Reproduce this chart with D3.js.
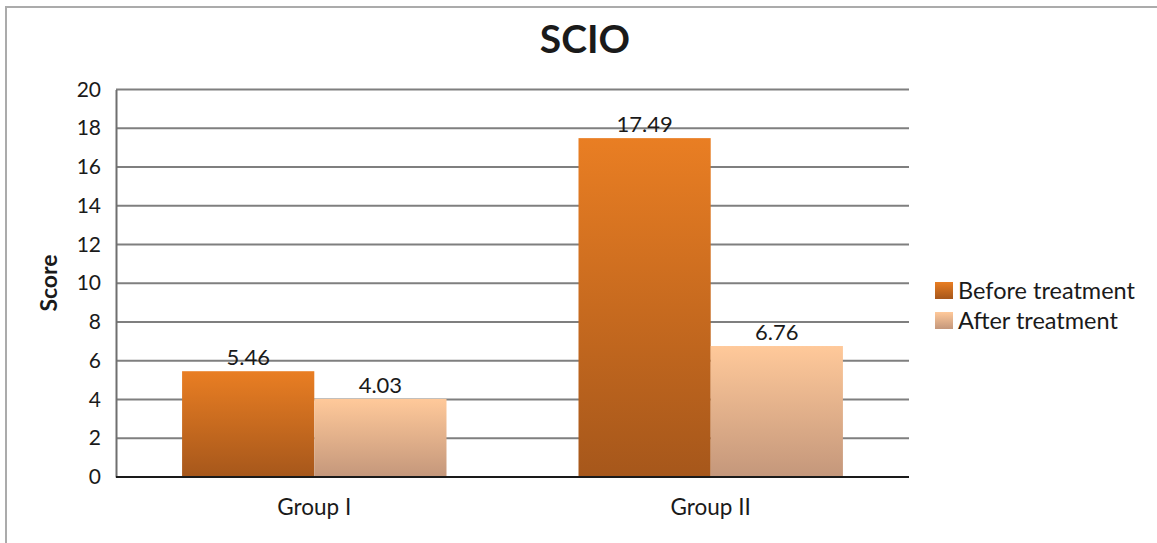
<!DOCTYPE html>
<html>
<head>
<meta charset="utf-8">
<script src="https://cdn.jsdelivr.net/npm/d3@7"></script>
<style>
  html, body { margin: 0; padding: 0; background: #fff; }
  svg { display: block; }
  text { font-family: Lato, "Open Sans", sans-serif; fill: #1a1a1a; }
</style>
</head>
<body>
<svg id="chart" width="1157" height="543"></svg>
<script>
// Chart data
const groups = ["Group I", "Group II"];
const seriesNames = ["Before treatment", "After treatment"];
const beforeValues = [5.46, 17.49];
const afterValues = [4.03, 6.76];
const yTicks = [0, 2, 4, 6, 8, 10, 12, 14, 16, 18, 20];
const chartTitle = "SCIO";
const yTitle = "Score";

const svg = d3.select("#chart");
const W = 1157, H = 543;
const plot = { left: 116, right: 909, top: 89.5, bottom: 477 };

// Outer chart frame
svg.append("rect")
  .attr("x", 6).attr("y", 7)
  .attr("width", W + 20).attr("height", H + 20)
  .attr("fill", "#fff")
  .attr("stroke", "#ababab").attr("stroke-width", 2);

// Gradients for the two series
const defs = svg.append("defs");
const gradStops = [
  ["gBefore", "#e97e23", "#a6571b"],
  ["gAfter", "#ffc99a", "#c4977b"]
];
gradStops.forEach(([id, top, bot]) => {
  const g = defs.append("linearGradient").attr("id", id)
    .attr("x1", 0).attr("y1", 0).attr("x2", 0).attr("y2", 1);
  g.append("stop").attr("offset", "0%").attr("stop-color", top);
  g.append("stop").attr("offset", "100%").attr("stop-color", bot);
});
const fills = ["url(#gBefore)", "url(#gAfter)"];

// Scales
const x0 = d3.scaleBand().domain(groups).range([plot.left, plot.right])
  .paddingInner(0.333).paddingOuter(0.1667);
const x1 = d3.scaleBand().domain(seriesNames).range([0, x0.bandwidth()]);
const y = d3.scaleLinear().domain([0, 20]).range([plot.bottom, plot.top]);

// Horizontal gridlines
svg.append("g")
  .selectAll("line")
  .data(yTicks.filter(d => d > 0))
  .join("line")
  .attr("x1", plot.left).attr("x2", plot.right)
  .attr("y1", d => y(d)).attr("y2", d => y(d))
  .attr("stroke", "#7f7f7f").attr("stroke-width", 2);

// Y axis
const yAxis = svg.append("g")
  .attr("transform", `translate(${plot.left},0)`)
  .call(d3.axisLeft(y).tickValues(yTicks).tickSize(0).tickPadding(15));
yAxis.select(".domain").attr("stroke", "#6f6f6f").attr("stroke-width", 2);
yAxis.selectAll("text")
  .style("font-size", "21px").style("font-family", "Lato, sans-serif")
  .attr("fill", "#1a1a1a");

// Bars
const series = seriesNames.map((name, i) => ({
  name, values: i === 0 ? beforeValues : afterValues
}));
const data = [];
groups.forEach((g, gi) => series.forEach((s, si) => {
  data.push({ group: g, series: s.name, si, value: s.values[gi] });
}));

svg.append("g")
  .selectAll("rect")
  .data(data)
  .join("rect")
  .attr("x", d => x0(d.group) + x1(d.series))
  .attr("y", d => y(d.value))
  .attr("width", x1.bandwidth())
  .attr("height", d => y(0) - y(d.value))
  .attr("fill", d => fills[d.si]);

// Value labels
svg.append("g")
  .selectAll("text")
  .data(data)
  .join("text")
  .attr("x", d => x0(d.group) + x1(d.series) + x1.bandwidth() / 2)
  .attr("y", d => y(d.value) - 6)
  .attr("text-anchor", "middle")
  .style("font-size", "22px")
  .text(d => d.value.toFixed(2));

// X axis baseline
svg.append("line")
  .attr("x1", plot.left).attr("x2", plot.right)
  .attr("y1", y(0)).attr("y2", y(0))
  .attr("stroke", "#1a1a1a").attr("stroke-width", 2);

// Group labels
svg.append("g")
  .selectAll("text")
  .data(groups)
  .join("text")
  .attr("x", d => x0(d) + x0.bandwidth() / 2)
  .attr("y", 515)
  .attr("text-anchor", "middle")
  .style("font-size", "22.5px")
  .text(d => d);

// Title
svg.append("text")
  .attr("x", 585).attr("y", 53)
  .attr("text-anchor", "middle")
  .style("font-size", "39px").style("font-weight", "bold")
  .attr("fill", "#000")
  .text(chartTitle);

// Y axis title
svg.append("text")
  .attr("transform", `translate(57,${283}) rotate(-90)`)
  .attr("text-anchor", "middle")
  .style("font-size", "23px").style("font-weight", "bold")
  .attr("fill", "#000")
  .text(yTitle);

// Legend
const legend = svg.append("g").attr("transform", "translate(935,282)");
seriesNames.forEach((name, i) => {
  const row = legend.append("g").attr("transform", `translate(0,${i * 30})`);
  row.append("rect").attr("width", 18).attr("height", 17).attr("fill", fills[i]);
  row.append("text").attr("x", 23).attr("y", 17)
    .style("font-size", "23.5px").text(name);
});
</script>
</body>
</html>
